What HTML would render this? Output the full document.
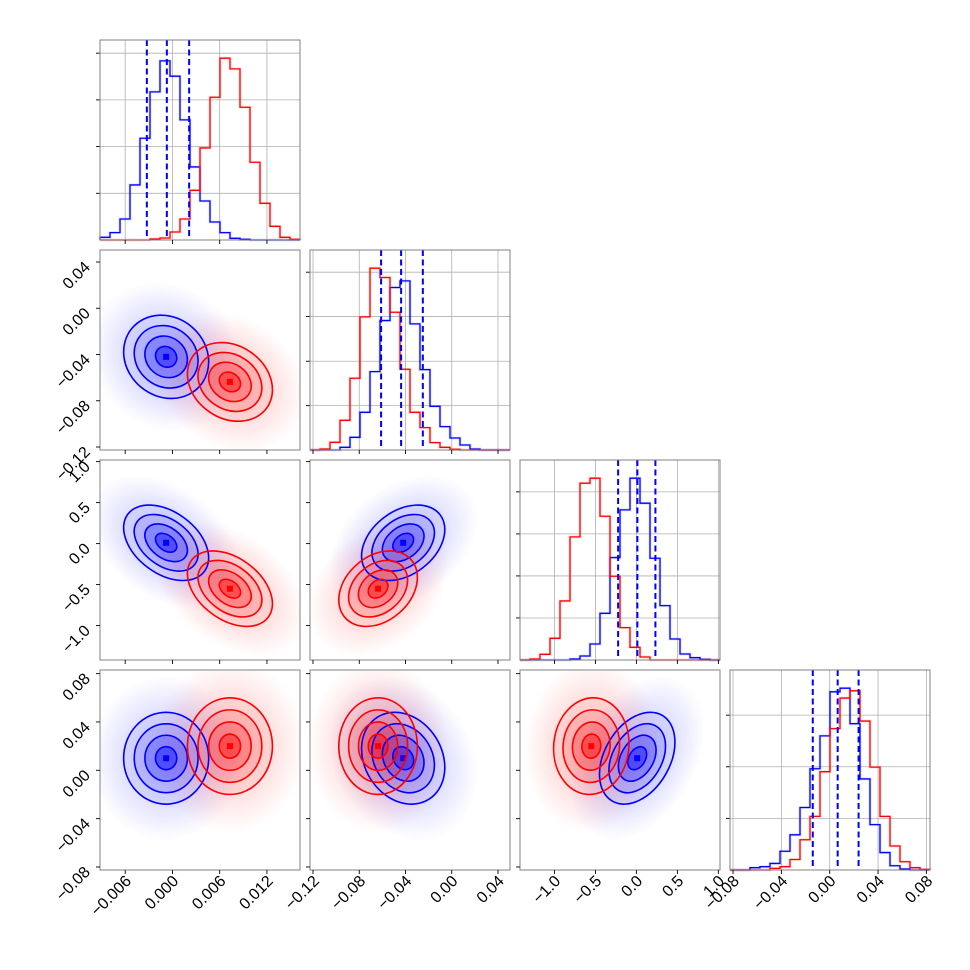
<!DOCTYPE html>
<html><head><meta charset="utf-8"><style>
body{margin:0;background:#fff}
svg{display:block;font-family:"Liberation Sans","DejaVu Sans",sans-serif}
</style></head><body>
<svg id="c" width="970" height="970" viewBox="0 0 970 970" xmlns="http://www.w3.org/2000/svg"></svg>
<script>
// ---- data ----
const paramLo = [-0.0092, -0.1226, -1.42, -0.0825];
const paramHi = [0.0162, 0.0504, 1.02, 0.083];
const blueHist0 = [8,22,63,165,305,444,537,491,360,219,117,54,22,5,2,0,0,0,0,0];
const redHist0  = [0,0,0,0,0,3,6,24,63,149,276,428,545,513,398,233,110,41,8,2];
const blueHist1 = [0,0,0,8,38,113,235,388,487,507,378,241,131,70,36,15,3,0,0,0];
const redHist1  = [0,3,23,89,215,399,545,517,413,242,113,67,22,8,2,0,0,0,0,0];
const blueHist2 = [0,0,0,0,0,3,12,48,140,307,450,545,470,305,163,63,18,7,2,0];
const redHist2  = [0,3,17,65,177,369,530,545,431,251,97,38,9,0,0,0,0,0,0,0];
const blueHist3 = [0,0,7,10,20,57,107,190,308,408,542,553,445,277,138,53,13,3,0,0];
const redHist3  = [0,0,0,0,5,10,32,92,163,299,430,523,545,453,313,163,73,25,7,2];
const blueQuantiles0 = [-0.00325, -0.00071, 0.00212];
const blueQuantiles1 = [-0.0611, -0.0438, -0.0250];
const blueQuantiles2 = [-0.223, 0.012, 0.232];
const blueQuantiles3 = [-0.0140, 0.0066, 0.0239];
const blueMean = [-0.0008, -0.042, 0.01, 0.010];
const redMean  = [0.0073, -0.0637, -0.55, 0.020];
const blueSd = [0.0027, 0.018, 0.23, 0.019];
const redSd  = [0.0027, 0.017, 0.23, 0.020];
// correlations for pairs [row][col]
const blueRho = [[0],[-0.12],[-0.4,0.35],[0,-0.2,0.35]];
const redRho  = [[0],[-0.2],[-0.4,0.3],[0,0,0.05]];
const histTicks0 = [140,280,420,560];
const histTicks1 = [133,266,400,533];
const histTicks2 = [126,252,378,504];
const histTicks3 = [157,314,471];
const xTicks0 = [-0.006,0,0.006,0.012];
const xTicks1 = [-0.12,-0.08,-0.04,0,0.04];
const xTicks2 = [-1,-0.5,0,0.5,1];
const xTicks3 = [-0.08,-0.04,0,0.04,0.08];
const tickLabels0 = ["−0.006","0.000","0.006","0.012"];
const tickLabels1 = ["−0.12","−0.08","−0.04","0.00","0.04"];
const tickLabels2 = ["−1.0","−0.5","0.0","0.5","1.0"];
const tickLabels3 = ["−0.08","−0.04","0.00","0.04","0.08"];

const blueH=[blueHist0,blueHist1,blueHist2,blueHist3], redH=[redHist0,redHist1,redHist2,redHist3];
const quants=[blueQuantiles0,blueQuantiles1,blueQuantiles2,blueQuantiles3];
const hTicks=[histTicks0,histTicks1,histTicks2,histTicks3];
const xT=[xTicks0,xTicks1,xTicks2,xTicks3], xL=[tickLabels0,tickLabels1,tickLabels2,tickLabels3];
const colX=[100,310,520,730], rowY=[40,250,460,670], S=200;
const NS="http://www.w3.org/2000/svg";
const svg=document.getElementById('c');
function mk(tag,attrs,parent){const e=document.createElementNS(NS,tag);for(const k in attrs)e.setAttribute(k,attrs[k]);(parent||svg).appendChild(e);return e;}
function sx(p,v){return colX[p]+(v-paramLo[p])/(paramHi[p]-paramLo[p])*S;}
function sy(p,v){return rowY[p]+S-(v-paramLo[p])/(paramHi[p]-paramLo[p])*S;}

const defs=mk('defs',{});
[['blue','#0000ff'],['red','#ff0000']].forEach(([n,c])=>{
  const g=mk('radialGradient',{id:'cloud-'+n},defs);
  mk('stop',{offset:'0','stop-color':c,'stop-opacity':'0.22'},g);
  mk('stop',{offset:'0.55','stop-color':c,'stop-opacity':'0.12'},g);
  mk('stop',{offset:'1','stop-color':c,'stop-opacity':'0'},g);
});

function ellipse(g,cx,cy,sxp,syp,rho,k,attrs){
  const a=sxp*sxp,c=syp*syp,b=-rho*sxp*syp;
  const th=0.5*Math.atan2(2*b,a-c);
  const m=(a+c)/2,d=Math.sqrt(((a-c)/2)**2+b*b);
  return mk('ellipse',Object.assign({cx:cx,cy:cy,rx:k*Math.sqrt(m+d),ry:k*Math.sqrt(Math.max(m-d,1e-6)),transform:`rotate(${th*180/Math.PI} ${cx} ${cy})`},attrs),g);
}

function ticksX(p,row,g,labels){
  xT[p].forEach((v,i)=>{
    const x=sx(p,v),y=rowY[row]+S;
    const t=mk('line',{x1:x,x2:x,y1:y,y2:y+4,stroke:'#000','stroke-width':0.9},g);
    
    
    if(labels){
      const tx=mk('text',{x:x+7,y:y+12,'font-size':16,'text-anchor':'end',transform:`rotate(-45 ${x+7} ${y+12})`},g);
      tx.textContent=xL[p][i];
      
      
    }
  });
}
function ticksY(p,row,col,g,labels){
  xT[p].forEach((v,i)=>{
    const y=sy(p,v),x=colX[col];
    if(y<rowY[row]-1||y>rowY[row]+S+1)return;
    const t=mk('line',{x1:x-4,x2:x,y1:y,y2:y,stroke:'#000','stroke-width':0.9},g);
    
    
    if(labels){
      const tx=mk('text',{x:x-9,y:y+6,'font-size':16,'text-anchor':'end',transform:`rotate(-45 ${x-9} ${y+6})`},g);
      tx.textContent=xL[p][i];
      
      
    }
  });
}

for(let p=0;p<4;p++){
  const g=mk('g',{});
  
  
  const x0=colX[p],y0=rowY[p];
  const ymax=1.1*Math.max(...blueH[p],...redH[p]);
  const hy=v=>y0+S-v/ymax*S;
  xT[p].forEach(v=>{const x=sx(p,v);if(x>x0&&x<x0+S){const l=mk('line',{x1:x,x2:x,y1:y0,y2:y0+S,stroke:'#b0b0b0','stroke-width':0.8},g);}});
  hTicks[p].forEach(v=>{const y=hy(v);const l=mk('line',{x1:x0,x2:x0+S,y1:y,y2:y,stroke:'#b0b0b0','stroke-width':0.8},g);
    const t=mk('line',{x1:x0-4,x2:x0,y1:y,y2:y,stroke:'#000','stroke-width':0.9},g);});
  [[blueH[p],'#0000ff','blue'],[redH[p],'#ff0000','red']].forEach(([h,c,n])=>{
    const bw=(paramHi[p]-paramLo[p])/h.length;
    let d=`M${sx(p,paramLo[p])},${hy(0)}`;
    h.forEach((v,i)=>{d+=` L${sx(p,paramLo[p]+i*bw)},${hy(v)} L${sx(p,paramLo[p]+(i+1)*bw)},${hy(v)}`;});
    d+=` L${sx(p,paramHi[p])},${hy(0)}`;
    mk('path',{d:d,fill:'none',stroke:c,'stroke-opacity':0.12,'stroke-width':3},g);
    const e=mk('path',{d:d,fill:'none',stroke:c,'stroke-width':1.3},g);
    
    
  });
  quants[p].forEach(v=>{const x=sx(p,v);const l=mk('line',{x1:x,x2:x,y1:y0,y2:y0+S,stroke:'#0000ff','stroke-width':2,'stroke-dasharray':'6,3.5'},g);});
  const f=mk('rect',{x:x0,y:y0,width:S,height:S,fill:'none',stroke:'#808080','stroke-width':1},g);
  
  ticksX(p,p,g,p===3);
}

for(let r=1;r<4;r++)for(let c=0;c<r;c++){
  const g=mk('g',{});
  
  
  const x0=colX[c],y0=rowY[r];
  const cp=mk('clipPath',{id:`clip${r}${c}`},defs);mk('rect',{x:x0,y:y0,width:S,height:S},cp);
  const inner=mk('g',{'clip-path':`url(#clip${r}${c})`},g);
  const sets=[['blue','#0000ff',blueMean,blueSd,blueRho[r][c]],['red','#ff0000',redMean,redSd,redRho[r][c]]];
  const geo=sets.map(([n,col,m,sd,rho])=>({n,col,rho,cx:sx(c,m[c]),cy:sy(r,m[r]),sxp:sd[c]*S/(paramHi[c]-paramLo[c]),syp:sd[r]*S/(paramHi[r]-paramLo[r])}));
  geo.forEach(o=>{const e=ellipse(inner,o.cx,o.cy,o.sxp,o.syp,o.rho,3.6,{fill:`url(#cloud-${o.n})`});});
  geo.forEach(o=>{[[2,0.05],[1.5,0.12],[1,0.22],[0.5,0.38]].forEach(([k,a])=>ellipse(inner,o.cx,o.cy,o.sxp,o.syp,o.rho,k,{fill:o.col,'fill-opacity':a}));
    mk('rect',{x:o.cx-3,y:o.cy-3,width:6,height:6,fill:o.col},inner);});
  geo.forEach(o=>{[0.5,1,1.5,2].forEach(k=>{const e=ellipse(inner,o.cx,o.cy,o.sxp,o.syp,o.rho,k,{fill:'none',stroke:o.col,'stroke-width':1.6});});});
  const f=mk('rect',{x:x0,y:y0,width:S,height:S,fill:'none',stroke:'#808080','stroke-width':1},g);
  
  ticksX(c,r,g,r===3);
  ticksY(r,r,c,g,c===0);
}
</script>
</body></html>
